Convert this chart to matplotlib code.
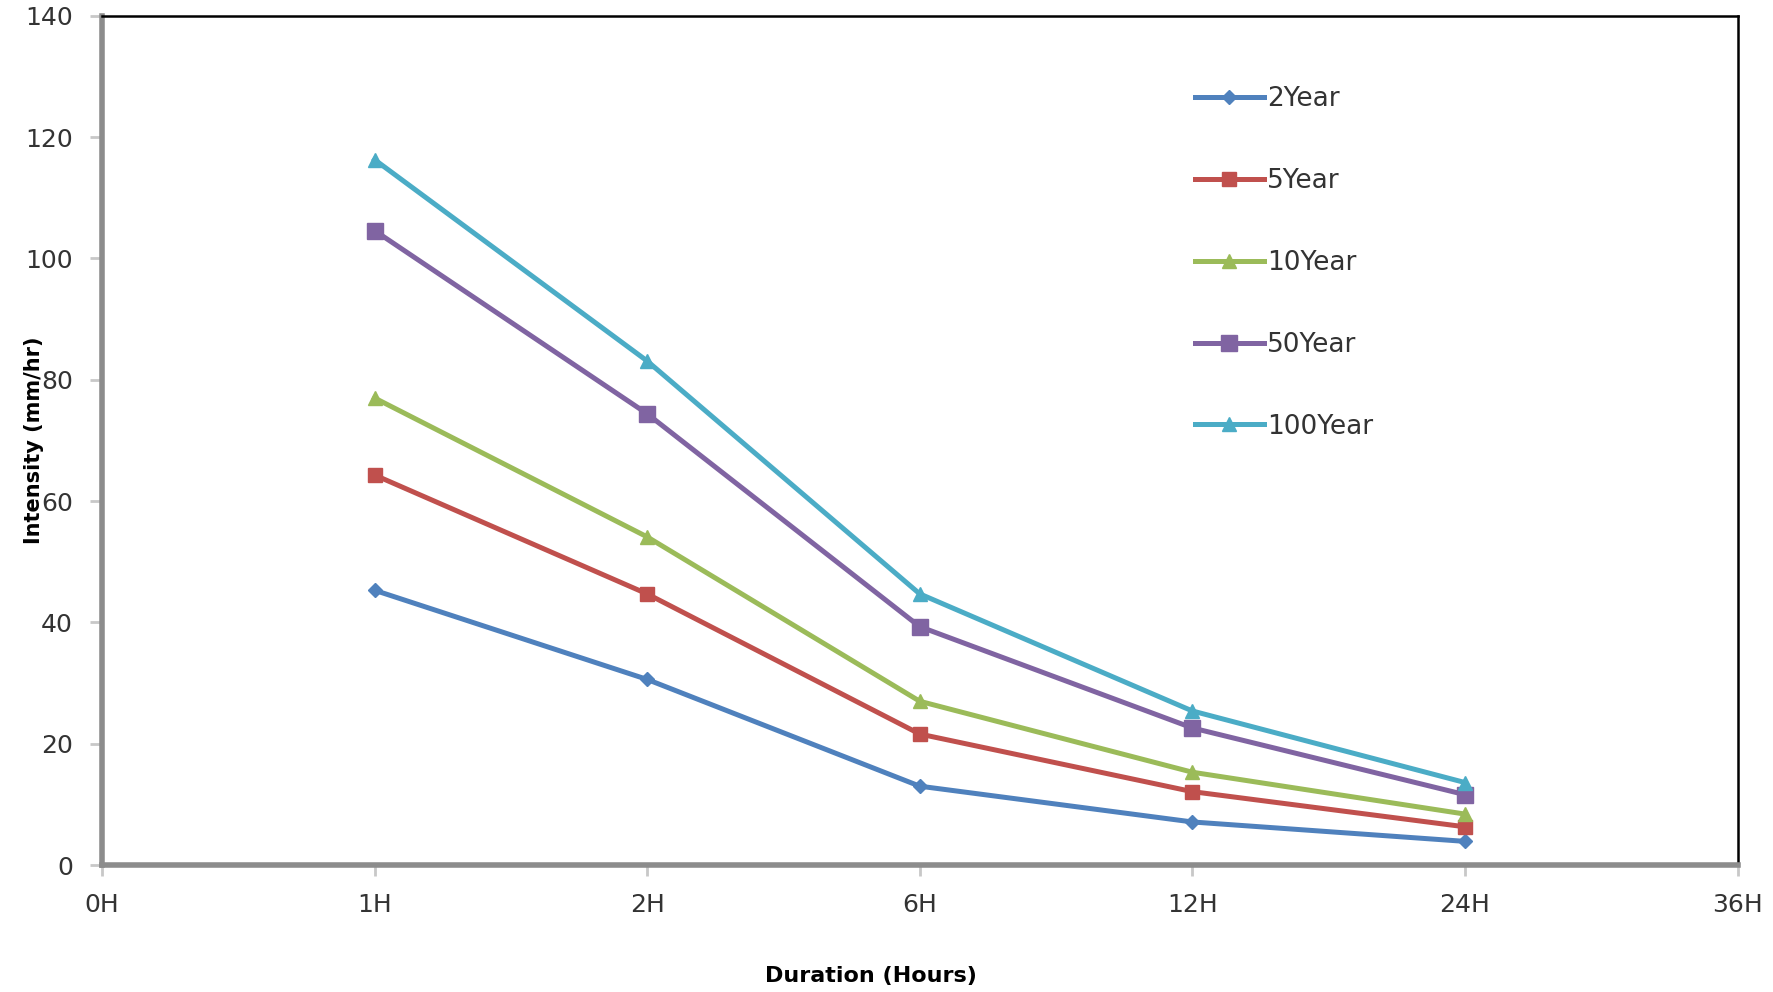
import numpy as np
import matplotlib.pyplot as plt

durations = ["0H", "1H", "2H", "6H", "12H", "24H", "36H"]
series_names = ["2Year", "5Year", "10Year", "50Year", "100Year"]
y2 = [45.3, 30.6, 13.0, 7.1, 3.9]
y5 = [64.3, 44.7, 21.6, 12.1, 6.3]
y10 = [77.0, 54.1, 27.0, 15.3, 8.4]
y50 = [104.6, 74.4, 39.3, 22.6, 11.6]
y100 = [116.3, 83.1, 44.7, 25.4, 13.6]

colors = ["#4F81BD", "#C0504D", "#9BBB59", "#8064A2", "#4BACC6"]
markers = ["D", "s", "^", "s", "^"]
msizes = [7, 10, 10, 11, 10]

fig = plt.figure(figsize=(17.73, 9.92), dpi=100)
ax = fig.add_axes([0.0575, 0.128, 0.9225, 0.856])

x = np.arange(1, 6)
for vals, name, c, m, ms in zip([y2, y5, y10, y50, y100], series_names, colors, markers, msizes):
    ax.plot(x, vals, color=c, lw=3.6, marker=m, ms=ms, mec=c, mfc=c, label=name)

ax.set_xlim(0, 6)
ax.set_ylim(0, 140)
ax.set_xticks(range(len(durations)))
ax.set_xticklabels(durations)
ax.set_yticks(range(0, 141, 20))

for s in ["left", "bottom"]:
    ax.spines[s].set_color("#8c8c8c")
    ax.spines[s].set_linewidth(4)
for s in ["top", "right"]:
    ax.spines[s].set_color("black")
    ax.spines[s].set_linewidth(1.8)

ax.tick_params(axis="y", direction="out", length=9, width=2, color="#c8c8c8",
               labelsize=18, labelcolor="#333333", pad=12)
ax.tick_params(axis="x", direction="out", length=8, width=2, color="#c8c8c8",
               labelsize=18, labelcolor="#333333", pad=12)

fig.text(0.019, 0.556, "Intensity (mm/hr)", rotation=90, ha="center", va="center",
         fontsize=15, fontweight="bold", color="black")
fig.text(0.491, 0.016, "Duration (Hours)", ha="center", va="center",
         fontsize=16, fontweight="bold", color="black")

leg = ax.legend(loc="upper left", bbox_to_anchor=(0.668, 0.924), bbox_transform=fig.transFigure,
                frameon=False, fontsize=19, labelspacing=2.12, handlelength=2.6,
                handletextpad=0.12, borderaxespad=0)
for t in leg.get_texts():
    t.set_color("#333333")

fig.savefig("out.png", dpi=100)
